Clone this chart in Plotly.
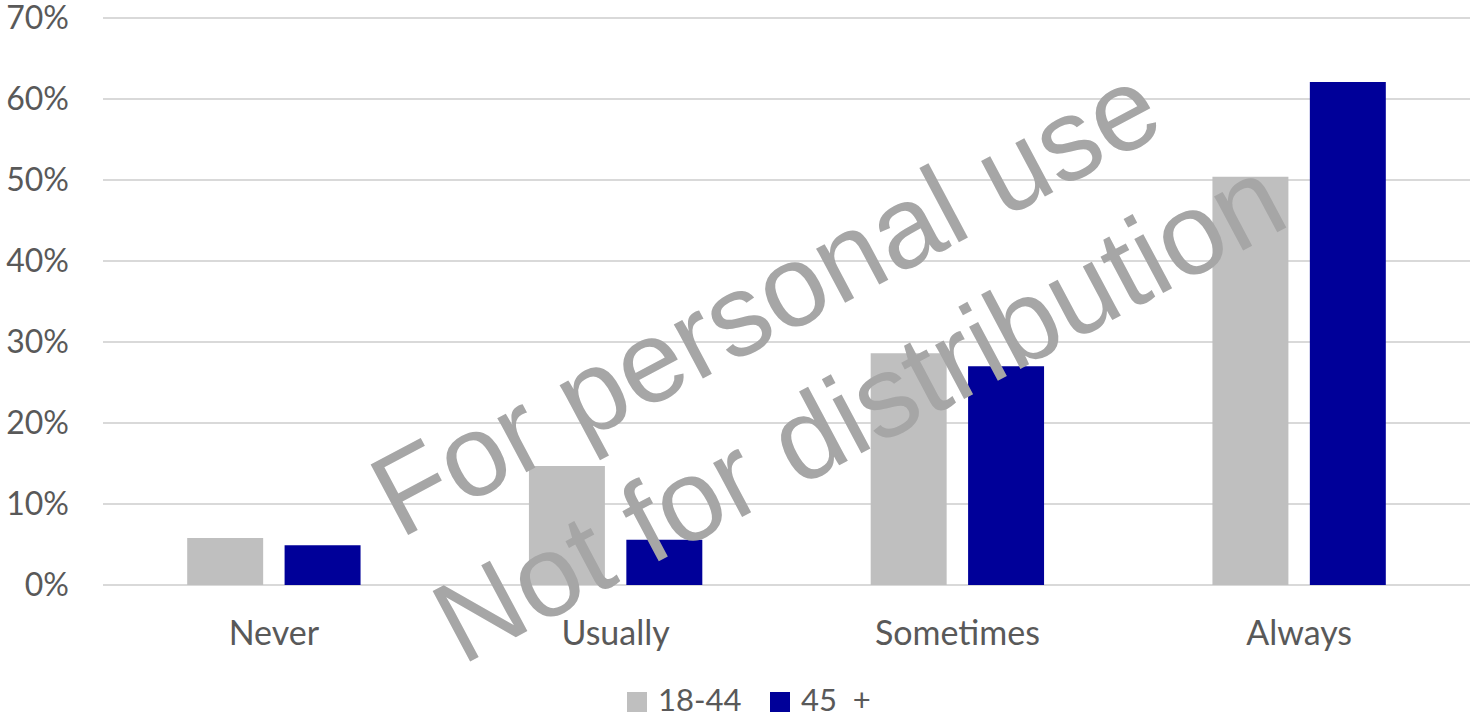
import plotly.graph_objects as go

categories = ["Never", "Usually", "Sometimes", "Always"]
series_names = ["18-44", "45  +"]
series_colors = ["#bfbfbf", "#000099"]
values_18_44 = [5.8, 14.7, 28.6, 50.4]
values_45_plus = [4.9, 5.6, 27.0, 62.1]
y_ticks = [0, 10, 20, 30, 40, 50, 60, 70]
y_tick_labels = ["0%", "10%", "20%", "30%", "40%", "50%", "60%", "70%"]
watermark_lines = ["For personal use", "Not for distribution"]

FONT = "Lato, 'Open Sans', sans-serif"
TXT = "#595959"

fig = go.Figure()
for name, vals, col in zip(series_names, [values_18_44, values_45_plus], series_colors):
    fig.add_trace(go.Bar(x=categories, y=vals, name=name, showlegend=False,
                         marker=dict(color=col, line=dict(width=0))))

W, H = 1471, 720
ml, mr, mt, mb = 103, 1, 14, 135

def px_to_paper(px, py):
    return (px - ml) / (W - ml - mr), 1 - (py - mt) / (H - mt - mb)

for (cx, cy), txt in zip([(765, 300), (858, 410)], watermark_lines):
    xp, yp = px_to_paper(cx, cy)
    fig.add_annotation(x=xp, y=yp, xref="paper", yref="paper", text=txt,
                       showarrow=False, textangle=-28,
                       xanchor="center", yanchor="middle",
                       font=dict(family="'Liberation Sans', Arial, sans-serif",
                                 size=116, color="#a6a6a6"))

# legend (swatch + label) placed below the plot, centred like the original
legend_swatch_px = [627, 770]
for name, col, sx in zip(series_names, series_colors, legend_swatch_px):
    x0, y0 = px_to_paper(sx, 712)
    x1, y1 = px_to_paper(sx + 20, 692)
    fig.add_shape(type="rect", xref="paper", yref="paper",
                  x0=x0, x1=x1, y0=y0, y1=y1,
                  fillcolor=col, line=dict(width=0))
    tx, ty = px_to_paper(sx + 29, 699)
    fig.add_annotation(x=tx, y=ty, xref="paper", yref="paper", text=name,
                       showarrow=False, xanchor="left", yanchor="middle",
                       font=dict(family=FONT, size=31, color=TXT))

fig.update_layout(
    width=W, height=H,
    margin=dict(l=ml, r=mr, t=mt, b=mb, autoexpand=False),
    paper_bgcolor="white", plot_bgcolor="white",
    barmode="group", bargap=0.43, bargroupgap=0.22,
    font=dict(family=FONT, size=33, color=TXT),
    showlegend=False,
)
fig.update_yaxes(range=[0, 70.5], tickvals=y_ticks, ticktext=y_tick_labels,
                 showgrid=True, gridcolor="#d9d9d9", gridwidth=2,
                 zeroline=True, zerolinecolor="#d9d9d9", zerolinewidth=2,
                 showline=False, ticks="", ticklabelstandoff=33,
                 ticklabeloverflow="allow",
                 tickfont=dict(size=32, color=TXT))
fig.update_xaxes(showline=False, ticks="", ticklabelstandoff=25,
                 tickfont=dict(size=34, color=TXT))

fig.write_html("out.html")
